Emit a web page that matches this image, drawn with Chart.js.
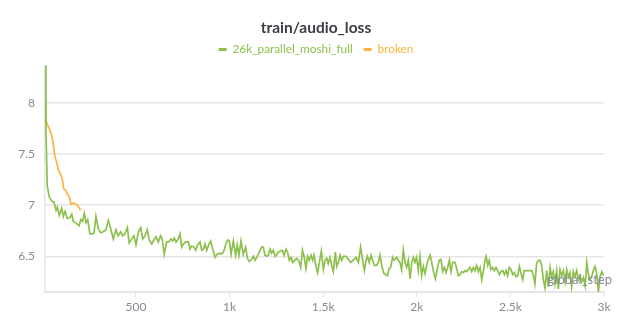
<!DOCTYPE html>
<html>
<head>
<meta charset="utf-8">
<script src="https://cdn.jsdelivr.net/npm/chart.js@4.4.1/dist/chart.umd.min.js"></script>
<style>
  html, body { margin: 0; padding: 0; background: #fff; }
</style>
</head>
<body>
<canvas id="chart" width="632" height="332"></canvas>
<script>
// train/audio_loss, two runs
const seriesNames = ['26k_parallel_moshi_full', 'broken'];

const fullSteps = [
  14, 19, 26, 37, 50, 62, 73, 80, 90, 103, 112, 121, 133, 147, 157, 165, 183, 196, 205, 215,
  224, 233, 242, 254, 267, 276, 286, 299, 311, 325, 340, 352, 365, 379, 393, 405, 418, 429, 441, 454,
  464, 477, 489, 500, 513, 525, 536, 548, 560, 571, 584, 596, 607, 619, 632, 641, 651, 664, 676, 687,
  696, 705, 714, 726, 735, 744, 753, 765, 780, 788, 797, 810, 819, 829, 842, 851, 860, 869, 878, 890,
  899, 910, 922, 934, 945, 954, 967, 979, 990, 999, 1008, 1020, 1032, 1041, 1050, 1061, 1073, 1086, 1095, 1105,
  1118, 1127, 1136, 1148, 1159, 1171, 1180, 1189, 1198, 1207, 1216, 1225, 1234, 1243, 1251, 1260, 1269, 1282, 1291, 1301,
  1310, 1319, 1328, 1337, 1349, 1358, 1369, 1380, 1389, 1399, 1408, 1417, 1426, 1435, 1444, 1451, 1462, 1470, 1479, 1490,
  1501, 1510, 1519, 1527, 1536, 1545, 1554, 1565, 1572, 1581, 1590, 1599, 1608, 1622, 1634, 1647, 1665, 1675, 1688, 1700,
  1711, 1720, 1729, 1736, 1746, 1755, 1764, 1773, 1786, 1796, 1803, 1814, 1825, 1836, 1843, 1852, 1860, 1871, 1880, 1893,
  1901, 1910, 1919, 1928, 1937, 1946, 1955, 1964, 1973, 1982, 1990, 1999, 2008, 2017, 2026, 2035, 2044, 2056, 2071, 2080,
  2088, 2099, 2110, 2120, 2129, 2138, 2147, 2156, 2165, 2174, 2183, 2192, 2204, 2213, 2222, 2231, 2240, 2249, 2258, 2266,
  2275, 2284, 2293, 2302, 2311, 2320, 2329, 2338, 2347, 2356, 2364, 2370, 2379, 2387, 2396, 2405, 2414, 2423, 2432, 2441,
  2450, 2459, 2468, 2477, 2485, 2494, 2503, 2512, 2521, 2530, 2539, 2548, 2557, 2566, 2574, 2583, 2596, 2605, 2614, 2623,
  2631, 2640, 2649, 2658, 2667, 2676, 2685, 2694, 2703, 2712, 2720, 2729, 2738, 2747, 2756, 2765, 2774, 2783, 2792, 2801,
  2810, 2818, 2827, 2836, 2845, 2854, 2863, 2872, 2881, 2890, 2899, 2908, 2916, 2925, 2934, 2943, 2952, 2961, 2970, 2979,
  2988, 2997
];
const fullLoss = [
  8.37, 7.75, 7.19, 7.08, 7.04, 7.03, 6.95, 6.98, 6.90, 6.97, 6.89, 6.94, 6.87, 6.88, 6.91, 6.84, 6.82, 6.80, 6.86, 6.84,
  6.92, 6.83, 6.86, 6.72, 6.72, 6.73, 6.89, 6.77, 6.73, 6.74, 6.76, 6.85, 6.77, 6.67, 6.76, 6.70, 6.74, 6.70, 6.72, 6.78,
  6.63, 6.67, 6.70, 6.61, 6.74, 6.78, 6.67, 6.70, 6.76, 6.66, 6.62, 6.66, 6.69, 6.64, 6.70, 6.66, 6.52, 6.64, 6.64, 6.67,
  6.65, 6.68, 6.64, 6.67, 6.72, 6.59, 6.62, 6.64, 6.64, 6.57, 6.60, 6.59, 6.56, 6.61, 6.64, 6.56, 6.57, 6.62, 6.56, 6.62,
  6.65, 6.57, 6.49, 6.52, 6.53, 6.52, 6.54, 6.61, 6.66, 6.65, 6.52, 6.65, 6.51, 6.61, 6.51, 6.65, 6.52, 6.59, 6.48, 6.45,
  6.47, 6.50, 6.46, 6.50, 6.54, 6.59, 6.59, 6.51, 6.50, 6.51, 6.57, 6.53, 6.56, 6.50, 6.51, 6.54, 6.55, 6.56, 6.51, 6.57,
  6.54, 6.46, 6.49, 6.44, 6.46, 6.48, 6.46, 6.39, 6.56, 6.49, 6.38, 6.50, 6.46, 6.51, 6.46, 6.51, 6.40, 6.34, 6.43, 6.55,
  6.37, 6.46, 6.48, 6.43, 6.49, 6.41, 6.35, 6.54, 6.40, 6.44, 6.51, 6.46, 6.50, 6.50, 6.47, 6.44, 6.47, 6.49, 6.44, 6.59,
  6.46, 6.36, 6.46, 6.50, 6.44, 6.51, 6.46, 6.41, 6.41, 6.45, 6.51, 6.40, 6.33, 6.32, 6.31, 6.38, 6.39, 6.49, 6.46, 6.49,
  6.46, 6.44, 6.37, 6.56, 6.44, 6.39, 6.46, 6.28, 6.44, 6.49, 6.44, 6.49, 6.36, 6.50, 6.31, 6.40, 6.33, 6.44, 6.51, 6.44,
  6.36, 6.28, 6.38, 6.46, 6.47, 6.35, 6.39, 6.34, 6.39, 6.46, 6.35, 6.44, 6.44, 6.38, 6.31, 6.32, 6.35, 6.34, 6.36, 6.35,
  6.37, 6.39, 6.35, 6.39, 6.36, 6.41, 6.35, 6.39, 6.27, 6.36, 6.46, 6.50, 6.41, 6.46, 6.37, 6.39, 6.36, 6.39, 6.36, 6.32,
  6.35, 6.36, 6.32, 6.36, 6.31, 6.39, 6.37, 6.32, 6.34, 6.30, 6.31, 6.40, 6.33, 6.27, 6.36, 6.36, 6.36, 6.36, 6.36, 6.31,
  6.23, 6.43, 6.46, 6.46, 6.41, 6.27, 6.19, 6.36, 6.20, 6.39, 6.30, 6.35, 6.23, 6.36, 6.18, 6.37, 6.31, 6.36, 6.25, 6.37,
  6.30, 6.34, 6.20, 6.35, 6.30, 6.36, 6.27, 6.31, 6.25, 6.29, 6.21, 6.44, 6.33, 6.27, 6.30, 6.36, 6.40, 6.33, 6.15, 6.30,
  6.35, 6.31
];

const brokenSteps = [14, 19, 26, 37, 50, 58, 67, 76, 85, 98, 108, 114, 126, 133, 144, 153, 165, 180, 192, 204];
const brokenLoss = [7.95, 7.84, 7.79, 7.75, 7.68, 7.60, 7.48, 7.42, 7.35, 7.30, 7.24, 7.16, 7.14, 7.11, 7.08, 7.01, 7.02, 7.01, 6.99, 6.95];

const xTicks = [500, 1000, 1500, 2000, 2500, 3000];
const yTicks = [6.5, 7, 7.5, 8];

const green = '#8dc04d';
const orange = '#ffb23e';
const tickColor = '#878b93';
const lineColor = '#e6e6e6';

Chart.defaults.font.family = 'Lato, "Open Sans", sans-serif';

function pairs(xs, ys){
  return xs.map((x, i) => ({ x: x, y: ys[i] }));
}

// "global_step" sits inside the plot, bottom right
const stepLabel = {
  id: 'stepLabel',
  afterDraw(chart){
    const { ctx, chartArea } = chart;
    ctx.save();
    ctx.font = '13px Lato, "Open Sans", sans-serif';
    ctx.fillStyle = '#858991';
    ctx.textAlign = 'right';
    ctx.textBaseline = 'middle';
    ctx.fillText('global_step', chartArea.right + 8, chartArea.bottom - 12);
    ctx.restore();
  }
};

new Chart(document.getElementById('chart'), {
  type: 'line',
  data: {
    datasets: [
      {
        label: seriesNames[0],
        data: pairs(fullSteps, fullLoss),
        borderColor: green,
        backgroundColor: green,
        borderWidth: 1.7,
        pointRadius: 0,
        tension: 0,
      },
      {
        label: seriesNames[1],
        data: pairs(brokenSteps, brokenLoss),
        borderColor: orange,
        backgroundColor: orange,
        borderWidth: 1.7,
        pointRadius: 0,
        tension: 0,
      }
    ]
  },
  options: {
    responsive: false,
    animation: false,
    layout: { padding: 0 },
    plugins: {
      title: {
        display: true,
        text: 'train/audio_loss',
        color: '#3b3d42',
        font: { size: 15.5, weight: 'bold', lineHeight: 1 },
        padding: { top: 20, bottom: -3 }
      },
      legend: {
        labels: {
          font: { size: 11.8 },
          padding: 11,
          usePointStyle: true,
          pointStyleWidth: 8,
          generateLabels: (chart) => chart.data.datasets.map((d, i) => ({
            text: d.label,
            fillStyle: d.borderColor,
            strokeStyle: d.borderColor,
            fontColor: d.borderColor,
            lineWidth: 3,
            pointStyle: 'line',
            hidden: false,
            datasetIndex: i
          }))
        }
      },
      tooltip: { enabled: false }
    },
    scales: {
      x: {
        type: 'linear',
        min: 14,
        max: 3000,
        afterBuildTicks: (s) => { s.ticks = xTicks.map(v => ({ value: v })); },
        afterFit: (s) => { s.height = 40; },
        grid: { drawOnChartArea: false, drawTicks: true, tickLength: 5, color: lineColor },
        border: { color: lineColor, width: 2 },
        ticks: {
          color: tickColor,
          font: { size: 12 },
          padding: 3,
          maxRotation: 0,
          callback: (v) => v >= 1000 ? (v / 1000) + 'k' : String(v)
        }
      },
      y: {
        type: 'linear',
        min: 6.15,
        max: 8.37,
        afterBuildTicks: (s) => { s.ticks = yTicks.map(v => ({ value: v })); },
        afterFit: (s) => { s.width = 45; },
        grid: { drawTicks: false, color: lineColor, lineWidth: 1.5 },
        border: { color: lineColor, width: 1.5 },
        ticks: {
          color: tickColor,
          font: { size: 12 },
          padding: 10,
          callback: (v) => String(v)
        }
      },
      // empty right-hand gutter so the title and legend stay centred on the whole canvas
      gutter: {
        type: 'linear',
        position: 'right',
        display: true,
        grid: { display: false, drawTicks: false },
        border: { display: false },
        ticks: { display: false },
        afterFit: (s) => { s.width = 28; }
      }
    }
  },
  plugins: [stepLabel]
});
</script>
</body>
</html>
